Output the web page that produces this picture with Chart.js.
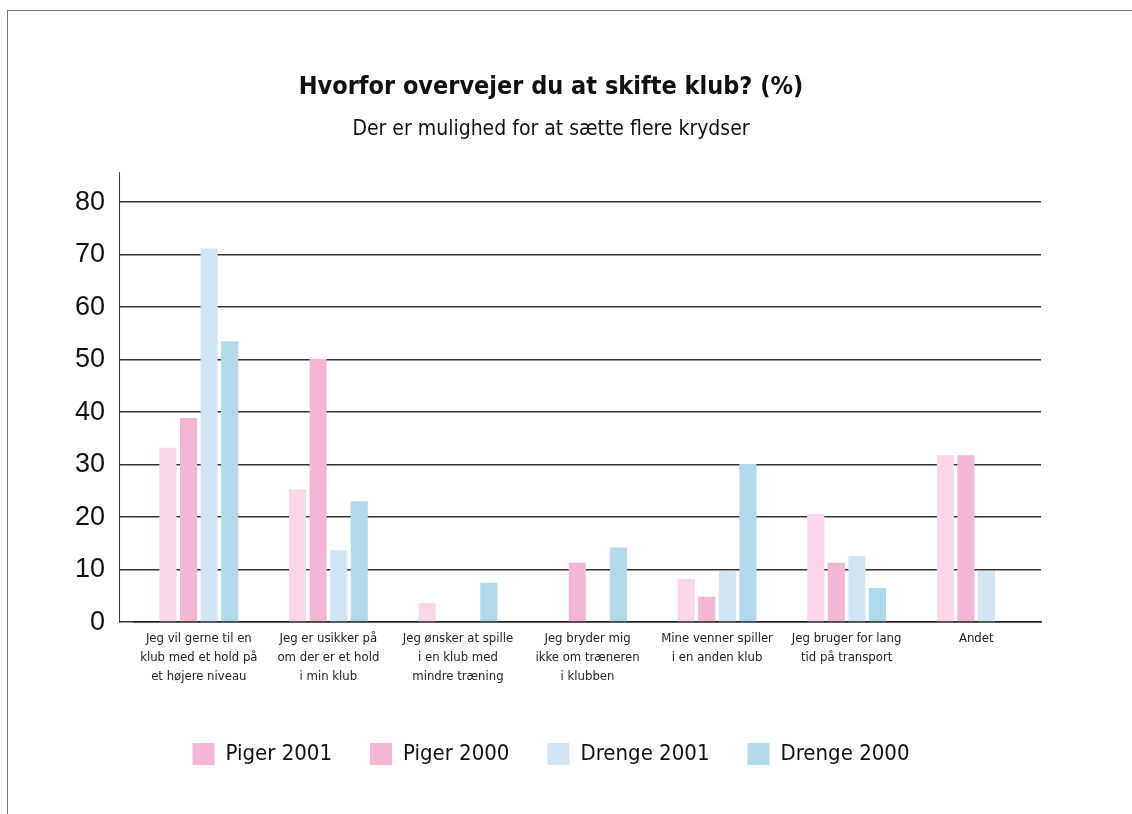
<!DOCTYPE html>
<html lang="da">
<head>
<meta charset="utf-8">
<title>Hvorfor overvejer du at skifte klub? (%)</title>
<script src="https://cdn.jsdelivr.net/npm/chart.js@4.4.1/dist/chart.umd.min.js"></script>
<style>
    html, body { margin: 0; padding: 0; background: #fff; overflow: hidden; }
    #wrap { position: relative; width: 1132px; height: 814px; }
    #frame { position: absolute; left: 7px; top: 10px; width: 1140px; height: 820px; border-left: 1.5px solid #777; border-top: 1.5px solid #777; }
</style>
</head>
<body>
<div id="wrap">
    <div id="frame"></div>
    <canvas id="chart"></canvas>
</div>
<script>
// Data
const categories = [
    ['Jeg vil gerne til en', 'klub med et hold på', 'et højere niveau'],
    ['Jeg er usikker på', 'om der er et hold', 'i min klub'],
    ['Jeg ønsker at spille', 'i en klub med', 'mindre træning'],
    ['Jeg bryder mig', 'ikke om træneren', 'i klubben'],
    ['Mine venner spiller', 'i en anden klub'],
    ['Jeg bruger for lang', 'tid på transport'],
    ['Andet']
];
const seriesNames = ['Piger 2001', 'Piger 2000', 'Drenge 2001', 'Drenge 2000'];
const piger2001 = [33.2, 25.3, 3.6, null, 8.2, 20.6, 31.8];
const piger2000 = [38.9, 50.1, null, 11.3, 4.8, 11.3, 31.8];
const drenge2001 = [71.2, 13.7, null, null, 9.7, 12.6, 9.7];
const drenge2000 = [53.5, 23.0, 7.5, 14.2, 30.1, 6.5, null];
const yTicks = [0, 10, 20, 30, 40, 50, 60, 70, 80];

const barColors = ['#fad6e8', '#f4b6d5', '#d2e5f3', '#b0d9ea'];
const legendColors = ['#f4b6d5', '#f4b6d5', '#d2e5f3', '#b0d9ea'];

const narrow = "'Liberation Sans Narrow', 'DejaVu Sans Condensed', 'Roboto Condensed', sans-serif";
const TICK_LEN = 15;

// vertical y axis line, sits at the end of the tick marks like in the original
const axisLine = {
    id: 'axisLine',
    afterDraw(chart) {
        const { ctx, chartArea, scales } = chart;
        const x = chartArea.left - TICK_LEN + 0.5;
        const top = scales.y.getPixelForValue(yTicks[yTicks.length - 1]) - 30;
        ctx.save();
        ctx.strokeStyle = '#333';
        ctx.lineWidth = 1;
        ctx.beginPath();
        ctx.moveTo(x, top);
        ctx.lineTo(x, chartArea.bottom + 0.5);
        ctx.stroke();
        ctx.restore();
    }
};

const allSeries = [piger2001, piger2000, drenge2001, drenge2000];

let datasets = [];
allSeries.forEach((d, i) => {
    datasets.push({
        label: seriesNames[i],
        data: d,
        backgroundColor: barColors[i],
        borderWidth: 0,
        categoryPercentage: 0.635,
        barPercentage: 0.83
    });
});

new Chart(document.getElementById('chart'), {
    type: 'bar',
    data: {
        labels: categories,
        datasets: datasets
    },
    options: {
        responsive: true,
        maintainAspectRatio: false,
        animation: false,
        layout: {
            padding: { left: 61, right: 91, top: 0, bottom: 39 }
        },
        plugins: {
            title: {
                display: true,
                text: 'Hvorfor overvejer du at skifte klub? (%)',
                color: '#111',
                font: { family: narrow, size: 25, weight: 'bold', lineHeight: 1.2 },
                padding: { top: 72, bottom: 15 }
            },
            subtitle: {
                display: true,
                text: 'Der er mulighed for at sætte flere krydser',
                color: '#111',
                font: { family: narrow, size: 21, lineHeight: 1.2 },
                padding: { top: 0, bottom: 60 }
            },
            legend: {
                position: 'bottom',
                labels: {
                    boxWidth: 22,
                    boxHeight: 22,
                    padding: 38,
                    color: '#111',
                    font: { family: narrow, size: 22 },
                    generateLabels: function (chart) {
                        const items = Chart.defaults.plugins.legend.labels.generateLabels(chart);
                        items.forEach((it, i) => {
                            it.fillStyle = legendColors[i];
                            it.strokeStyle = legendColors[i];
                            it.lineWidth = 0;
                        });
                        return items;
                    }
                }
            },
            tooltip: { enabled: false }
        },
        scales: {
            x: {
                grid: { display: false, drawTicks: false },
                border: { display: true, color: '#222', width: 1.5 },
                afterFit: (scale) => {
                    scale.height = scale.height + 12;
                },
                ticks: {
                    color: '#222',
                    padding: 7,
                    maxRotation: 0,
                    autoSkip: false,
                    font: { family: narrow, size: 13, lineHeight: 1.46 }
                }
            },
            y: {
                min: 0,
                max: 80,
                afterBuildTicks: (scale) => {
                    scale.ticks = yTicks.map(v => ({ value: v }));
                },
                grid: { color: '#333', lineWidth: 1.5, drawTicks: true, tickLength: TICK_LEN },
                border: { display: false },
                ticks: {
                    color: '#111',
                    padding: 14,
                    font: { family: "'Liberation Sans', Arial, sans-serif", size: 27 }
                }
            }
        }
    },
    plugins: [axisLine]
});
</script>
</body>
</html>
